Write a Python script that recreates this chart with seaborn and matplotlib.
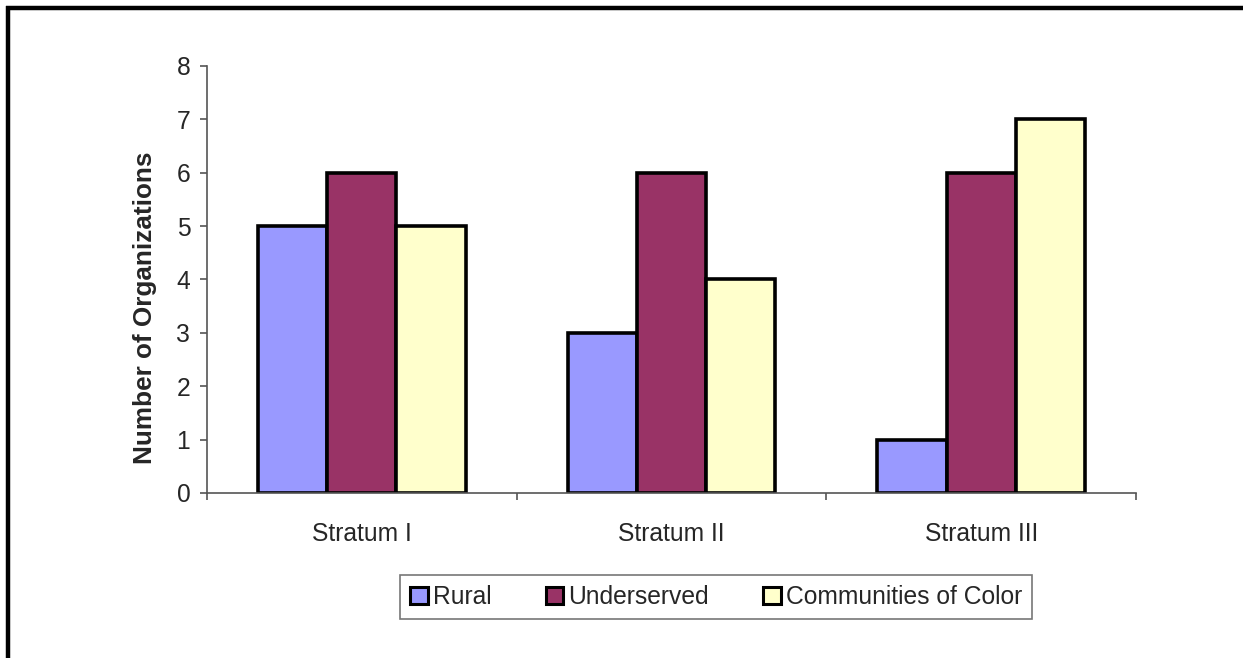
import matplotlib
matplotlib.use("Agg")
import matplotlib.pyplot as plt
from matplotlib.patches import Patch
from matplotlib.lines import Line2D
import seaborn as sns
import pandas as pd

# Organizations per stratum, by population served
strata = ["Stratum I", "Stratum II", "Stratum III"]
groups = ["Rural", "Underserved", "Communities of Color"]
rural = [5, 3, 1]
underserved = [6, 6, 6]
communities_of_color = [5, 4, 7]
palette = ["#9999FF", "#993366", "#FFFFCC"]

rows = []
for g, vals in zip(groups, [rural, underserved, communities_of_color]):
    for s, v in zip(strata, vals):
        rows.append({"Stratum": s, "Group": g, "Count": v})
df = pd.DataFrame(rows)

sns.set_theme(style="white")
plt.rcParams["font.family"] = ["Liberation Sans", "DejaVu Sans"]

fig = plt.figure(figsize=(12.43, 6.58), dpi=100)
ax = fig.add_axes([0.1665, 0.2508, 0.9139 - 0.1665, 0.8997 - 0.2508])

sns.barplot(data=df, x="Stratum", y="Count", hue="Group", order=strata,
            hue_order=groups, palette=palette, width=0.67, gap=0,
            edgecolor="black", linewidth=2.6, saturation=1, ax=ax,
            legend=False)

ax.set_ylim(0, 8)
ax.set_xlim(-0.5, 2.5)
ax.set_yticks(range(0, 9))
ax.set_xlabel("")
ax.set_ylabel("Number of Organizations", fontsize=18.8, fontweight="bold")
ax.yaxis.set_label_coords(-0.0535, 0.433)

for side in ["top", "right"]:
    ax.spines[side].set_visible(False)
for side in ["left", "bottom"]:
    ax.spines[side].set_color("#555555")
    ax.spines[side].set_linewidth(1.2)

ax.tick_params(axis="y", which="major", left=True, length=5, width=1.2,
               color="#555555", labelsize=17.7, pad=7)
ax.tick_params(axis="x", which="major", bottom=False, length=0,
               labelsize=17.7, pad=21)
ax.set_xticks([-0.5, 0.5, 1.5, 2.5], minor=True)
ax.tick_params(axis="x", which="minor", bottom=True, length=5, width=1.2,
               color="#555555")

handles = [Patch(facecolor=c, edgecolor="black", linewidth=2.2, label=g)
           for c, g in zip(palette, groups)]
leg = fig.legend(handles=handles, loc="center",
                 bbox_to_anchor=(716 / 1243, 1 - 597 / 658), ncol=3,
                 fontsize=17.7, frameon=True, fancybox=False,
                 handlelength=0.72, handleheight=0.72, handletextpad=0.2,
                 columnspacing=2.2, borderpad=0.4, borderaxespad=0)
leg.get_frame().set_edgecolor("#555555")
leg.get_frame().set_linewidth(1.2)

# Heavy frame along the top and left edges of the figure
fig.add_artist(Line2D([6 / 1243, 1.0], [1 - 7.5 / 658] * 2,
                      transform=fig.transFigure, color="black", linewidth=3.2,
                      solid_capstyle="butt"))
fig.add_artist(Line2D([7.5 / 1243] * 2, [0.0, 1 - 6 / 658],
                      transform=fig.transFigure, color="black", linewidth=3.2,
                      solid_capstyle="butt"))

fig.savefig("out.png", dpi=100, facecolor="white")
